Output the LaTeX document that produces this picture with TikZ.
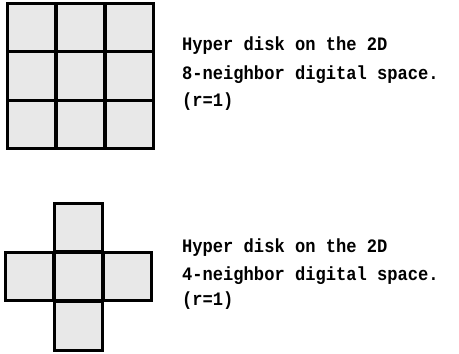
\documentclass[tikz,border=0pt]{standalone}
\usepackage{fontspec}
\setmonofont{Liberation Mono}
\begin{document}
\begin{tikzpicture}[x=1pt,y=1pt,
  cell/.style={draw=black,line width=3pt,fill=black!9,minimum width=48.5pt,minimum height=48.5pt,inner sep=0pt,outer sep=0pt},
  txt/.style={anchor=base west,inner sep=0pt,xscale=0.9,transform shape,font=\ttfamily\bfseries\fontsize{19}{22}\selectfont}]
\useasboundingbox (0,0) rectangle (459,354);
% 8-neighbour grid
\foreach \i/\x in {1/31.3,2/80.5,3/129.7}{
  \foreach \j/\y in {1/326.7,2/278,3/229.3}{
    \node[cell] (g\i\j) at (\x,\y) {};
  }
}
% 4-neighbour cross
\node[cell] (ct) at (78.5,126.5) {};
\node[cell] (cl) at (29.3,77.3) {};
\node[cell] (cc) at (78.5,77.3) {};
\node[cell] (cr) at (127.7,77.3) {};
\node[cell] (cb) at (78.5,28.1) {};
% texts
\node[txt] (t1a) at (182,303) {Hyper disk on the 2D};
\node[txt] (t1b) at (182,274) {8-neighbor digital space.};
\node[txt] (t1c) at (182,247) {(r=1)};
\node[txt] (t2a) at (182,101) {Hyper disk on the 2D};
\node[txt] (t2b) at (182,73) {4-neighbor digital space.};
\node[txt] (t2c) at (182,48) {(r=1)};
\end{tikzpicture}
\end{document}
